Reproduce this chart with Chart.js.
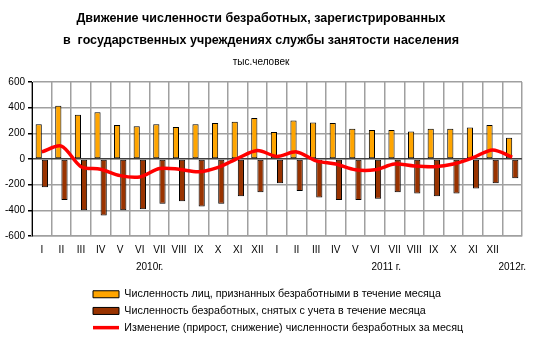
<!DOCTYPE html>
<html>
<head>
<meta charset="utf-8">
<script src="https://cdn.jsdelivr.net/npm/chart.js@4"></script>
<style>
  body { margin: 0; background: #fff; }
  #wrap { width: 545px; height: 346px; }
</style>
</head>
<body>
<div id="wrap"><canvas id="unemploymentChart" width="545" height="346"></canvas></div>
<script>
// months, Jan 2010 .. Jan 2012
var months = ['I', 'II', 'III', 'IV', 'V', 'VI', 'VII', 'VIII', 'IX', 'X', 'XI', 'XII',
              'I', 'II', 'III', 'IV', 'V', 'VI', 'VII', 'VIII', 'IX', 'X', 'XI', 'XII', ''];
// year captions under the months (trailing spaces nudge them a bit to the left)
var years = ['', '', '', '', '', '', '2010г.       ', '', '', '', '', '',
             '', '', '', '', '', '', '2011 г.      ', '', '', '', '', '', '2012г.'];

// thousand persons
var registered = [270, 415, 345, 365, 265, 255, 270, 250, 270, 280, 290, 320,
                  210, 300, 285, 280, 235, 225, 225, 215, 235, 235, 245, 265, 165];
var removed = [-220, -320, -400, -440, -400, -392, -350, -330, -370, -350, -290, -260,
               -190, -250, -300, -320, -320, -310, -260, -270, -290, -270, -230, -190, -150];
var change = [55, 100, -60, -80, -130, -140, -75, -80, -100, -65, 5, 65,
              20, 55, -15, -40, -85, -85, -40, -55, -60, -40, 10, 70, 15];

var yTicks = [-600, -400, -200, 0, 200, 400, 600];

document.addEventListener('DOMContentLoaded', function () {
  Chart.defaults.font.family = "'Liberation Sans', Arial, sans-serif";
  Chart.defaults.color = '#000';

  var labels = months.map(function (m, i) { return [m, years[i]]; });

  // move legend rows to the right like in the original
  var legendShift = {
    id: 'legendShift',
    beforeDraw: function (chart) {
      chart.legend.left = 87;
    }
  };

  var ctx = document.getElementById('unemploymentChart').getContext('2d');
  new Chart(ctx, {
    type: 'bar',
    data: {
      labels: labels,
      datasets: [
        {
          label: 'Численность лиц, признанных безработными в течение месяца',
          data: registered,
          backgroundColor: '#ffa500',
          borderColor: '#000',
          borderWidth: 1,
          borderSkipped: false,
          pointStyle: 'rect',
          categoryPercentage: 0.63,
          barPercentage: 1.0,
          order: 2
        },
        {
          label: 'Численность безработных, снятых с учета в течение месяца',
          data: removed,
          backgroundColor: '#993300',
          borderColor: '#000',
          borderWidth: 1,
          borderSkipped: false,
          pointStyle: 'rect',
          categoryPercentage: 0.63,
          barPercentage: 1.0,
          order: 2
        },
        {
          type: 'line',
          label: 'Изменение (прирост, снижение) численности безработных за месяц',
          data: change,
          borderColor: '#ff0000',
          backgroundColor: '#ff0000',
          borderWidth: 3.5,
          pointRadius: 0,
          pointStyle: 'line',
          tension: 0.3,
          order: 1
        }
      ]
    },
    options: {
      responsive: false,
      animation: false,
      layout: { padding: { left: 0, right: 23, top: 0, bottom: 3 } },
      scales: {
        x: {
          grid: { color: '#a0a0a0', lineWidth: 1.5, offset: true, drawTicks: false },
          border: { color: '#a0a0a0', width: 1.5 },
          ticks: { font: { size: 10, lineHeight: 1.7 }, padding: 6, maxRotation: 0, autoSkip: false },
          afterFit: function (scale) { scale.height += 1; }
        },
        y: {
          min: -600,
          max: 600,
          afterBuildTicks: function (scale) {
            scale.ticks = yTicks.map(function (v) { return { value: v }; });
          },
          grid: {
            color: function (c) { return c.tick && c.tick.value === 0 ? '#404040' : '#a0a0a0'; },
            lineWidth: 1.5,
            tickLength: 4,
            tickColor: '#000'
          },
          border: { color: '#000', width: 1 },
          ticks: { font: { size: 10 }, padding: 3 },
          afterFit: function (scale) { scale.width = 32; }
        }
      },
      plugins: {
        title: {
          display: true,
          text: ['Движение численности безработных, зарегистрированных',
                 'в  государственных учреждениях службы занятости населения'],
          font: { size: 12.5, weight: 'bold', lineHeight: 1.76 },
          padding: { top: 8, bottom: 0 }
        },
        subtitle: {
          display: true,
          text: 'тыс.человек',
          font: { size: 10 },
          padding: { top: 4, bottom: 14 }
        },
        legend: {
          position: 'bottom',
          align: 'start',
          labels: {
            usePointStyle: true,
            pointStyleWidth: 26,
            boxHeight: 7,
            padding: 6,
            font: { size: 10.7 },
            sort: function (a, b) { return a.datasetIndex - b.datasetIndex; }
          }
        },
        tooltip: { enabled: false }
      }
    },
    plugins: [legendShift]
  });
});
</script>
</body>
</html>
